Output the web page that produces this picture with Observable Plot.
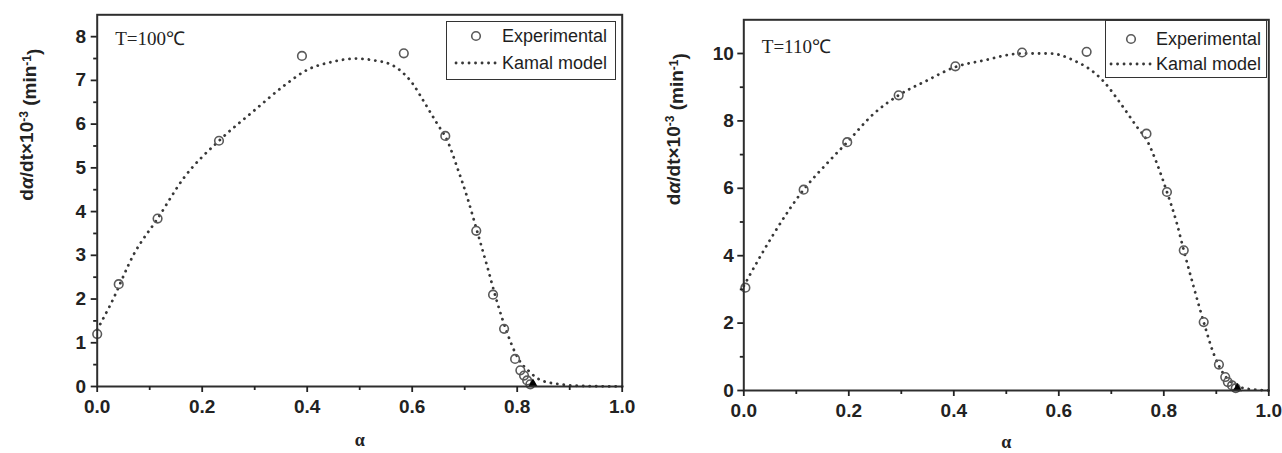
<!DOCTYPE html>
<html><head><meta charset="utf-8">
<script src="https://cdn.jsdelivr.net/npm/d3@7"></script>
<script src="https://cdn.jsdelivr.net/npm/@observablehq/plot@0.6"></script>
<style>
body{margin:0;background:#fff;}
#wrap{position:relative;width:1282px;height:453px;overflow:hidden;font-family:"Liberation Sans",Arial,sans-serif;}
.panel{position:absolute;top:0;}
.legend{position:absolute;border:1.8px solid #333;background:#fff;overflow:hidden;box-sizing:border-box;}
.legend svg{display:block;}
</style>
</head><body>
<div id="wrap"></div>
<script>
// ---------- data ----------
const alphaTicks = [0, 0.2, 0.4, 0.6, 0.8, 1.0];
const alphaMinor = [0.1, 0.3, 0.5, 0.7, 0.9];

// T = 100 °C
const exp100Alpha = [0.0, 0.041, 0.115, 0.232, 0.39, 0.584, 0.663, 0.722, 0.754, 0.775, 0.796, 0.806, 0.813, 0.819, 0.825];
const exp100Rate  = [1.2, 2.34, 3.84, 5.62, 7.56, 7.62, 5.73, 3.56, 2.10, 1.32, 0.63, 0.37, 0.25, 0.14, 0.05];
const model100Alpha = [0.0, 0.026, 0.07, 0.115, 0.165, 0.232, 0.298, 0.355, 0.4, 0.45, 0.493, 0.531, 0.56, 0.58, 0.6, 0.622, 0.647, 0.667, 0.686, 0.705, 0.722, 0.743, 0.762, 0.781, 0.8, 0.825, 0.844, 0.882, 0.93, 1.0];
const model100Rate  = [1.3, 1.89, 3.03, 3.84, 4.77, 5.62, 6.3, 6.87, 7.24, 7.43, 7.5, 7.45, 7.36, 7.2, 6.94, 6.52, 6.02, 5.62, 5.0, 4.32, 3.62, 2.74, 1.92, 1.22, 0.68, 0.32, 0.15, 0.05, 0.01, 0.0];
const mark100Alpha = [0.83];
const mark100Rate  = [0.06];
const y100Ticks = [0, 1, 2, 3, 4, 5, 6, 7, 8];
const y100Minor = [0.5, 1.5, 2.5, 3.5, 4.5, 5.5, 6.5, 7.5];

// T = 110 °C
const exp110Alpha = [0.003, 0.114, 0.197, 0.295, 0.403, 0.53, 0.653, 0.767, 0.806, 0.838, 0.876, 0.905, 0.917, 0.922, 0.93, 0.937];
const exp110Rate  = [3.05, 5.96, 7.37, 8.76, 9.62, 10.03, 10.05, 7.62, 5.89, 4.16, 2.03, 0.77, 0.40, 0.25, 0.15, 0.07];
const model110Alpha = [0.0, 0.013, 0.057, 0.114, 0.158, 0.197, 0.248, 0.295, 0.349, 0.403, 0.453, 0.53, 0.584, 0.628, 0.673, 0.686, 0.718, 0.749, 0.768, 0.787, 0.806, 0.825, 0.838, 0.857, 0.876, 0.895, 0.914, 0.933, 0.952, 0.98, 1.0];
const model110Rate  = [3.1, 3.47, 4.65, 5.96, 6.73, 7.37, 8.22, 8.76, 9.2, 9.6, 9.78, 10.0, 10.0, 9.8, 9.36, 9.16, 8.51, 7.82, 7.42, 6.73, 5.89, 4.95, 4.16, 3.07, 2.03, 1.09, 0.49, 0.2, 0.07, 0.02, 0.0];
const mark110Alpha = [0.94];
const mark110Rate  = [0.06];
const y110Ticks = [0, 2, 4, 6, 8, 10];
const y110Minor = [1, 3, 5, 7, 9];

const yLabel = "dα/dt×10-3 (min-1)";

// ---------- chart ----------
function zip(a, b) { return a.map((v, i) => ({a: v, r: b[i]})); }
const DOTS = {stroke: "#383838", strokeWidth: 2.8, strokeDasharray: "0.1,6.4", strokeLinecap: "round"};

function makePanel(o) {
  const axisFont = {fontSize: 19, fontWeight: "bold", color: "#222", strokeWidth: 1.8};
  const plot = Plot.plot({
    width: o.width, height: 453,
    marginLeft: o.ml, marginRight: o.mr, marginTop: o.mt, marginBottom: o.mb,
    style: {fontFamily: "'Liberation Sans', Arial, sans-serif", background: "transparent", overflow: "visible"},
    x: {domain: [0, 1]},
    y: {domain: [0, o.yMax]},
    marks: [
      Plot.line(zip(o.modA, o.modR), {x: "a", y: "r", ...DOTS, curve: "monotone-x"}),
      Plot.dot(zip(o.expA, o.expR), {x: "a", y: "r", r: 4.3, stroke: "#5a5a5a", strokeWidth: 1.6, fill: "none"}),
      Plot.dot(zip(o.markA, o.markR), {x: "a", y: "r", symbol: "triangle", r: 3.5, fill: "#000"}),
      Plot.frame({stroke: "#2e2e2e", strokeWidth: 2}),
      Plot.axisX({ticks: alphaTicks, tickSize: 6, tickPadding: 7, tickFormat: d3.format(".1f"), label: null, ...axisFont}),
      Plot.axisX({ticks: alphaMinor, tickSize: 4, text: null, label: null, color: "#222", strokeWidth: 1.8}),
      Plot.axisY({ticks: o.yTicks, tickSize: 6, tickPadding: o.yPad, tickFormat: d3.format("d"), label: null, ...axisFont}),
      Plot.axisY({ticks: o.yMinor, tickSize: 3.5, text: null, label: null, color: "#222", strokeWidth: 1.8}),
      Plot.text([o.temp], {frameAnchor: "top-left", textAnchor: "start", lineAnchor: "middle", dx: o.tdx, dy: o.tdy,
        fontFamily: "'Liberation Serif', 'Times New Roman', serif", fontSize: 19, fill: "#222"}),
      Plot.text(["α"], {frameAnchor: "bottom", lineAnchor: "middle", dy: o.xldy,
        fontFamily: "'Liberation Serif', serif", fontWeight: "bold", fontSize: 18, fill: "#222"}),
      Plot.text([yLabel], {frameAnchor: "left", rotate: -90, lineAnchor: "middle", dx: o.yldx,
        fontSize: 19, fontWeight: "bold", fill: "#222"})
    ]
  });
  d3.select(plot).selectAll("text").filter(function() { return this.textContent === yLabel; }).each(function() {
    const t = d3.select(this);
    t.text(null);
    t.append("tspan").text("d");
    t.append("tspan").attr("font-style", "italic").text("α");
    t.append("tspan").text("/dt×10");
    t.append("tspan").attr("dy", "-0.45em").attr("font-size", 12).text("-3");
    t.append("tspan").attr("dy", "0.45em").text(" (min");
    t.append("tspan").attr("dy", "-0.45em").attr("font-size", 12).text("-1");
    t.append("tspan").attr("dy", "0.45em").text(")");
  });
  const div = document.createElement("div");
  div.className = "panel";
  div.style.left = o.left + "px";
  div.appendChild(plot);
  return div;
}

function makeLegend(o) {
  const div = document.createElement("div");
  div.className = "legend";
  Object.assign(div.style, {left: o.x + "px", top: o.y + "px", width: o.w + "px", height: o.h + "px"});
  const svg = d3.create("svg").attr("width", o.w + 20).attr("height", o.h);
  svg.append("circle").attr("cx", o.cx).attr("cy", o.r1).attr("r", 4.3).attr("fill", "none")
    .attr("stroke", "#5a5a5a").attr("stroke-width", 1.6);
  svg.append("line").attr("x1", o.lx1).attr("x2", o.lx2).attr("y1", o.r2).attr("y2", o.r2)
    .attr("stroke", DOTS.stroke).attr("stroke-width", DOTS.strokeWidth)
    .attr("stroke-dasharray", DOTS.strokeDasharray).attr("stroke-linecap", "round");
  const tt = (y, s) => svg.append("text").attr("x", o.tx).attr("y", y).attr("dy", "0.35em")
    .attr("font-family", "'Liberation Sans', Arial, sans-serif").attr("font-size", 18).attr("fill", "#1e1e1e").text(s);
  tt(o.r1, "Experimental");
  tt(o.r2, "Kamal model");
  div.appendChild(svg.node());
  return div;
}

const wrap = document.getElementById("wrap");
wrap.appendChild(makePanel({
  left: 0, width: 640, ml: 96.7, mr: 18.3, mt: 14.3, mb: 67, yMax: 8.5,
  expA: exp100Alpha, expR: exp100Rate, modA: model100Alpha, modR: model100Rate,
  markA: mark100Alpha, markR: mark100Rate, yTicks: y100Ticks, yMinor: y100Minor, yPad: 5,
  temp: "T=100℃", tdx: 18, tdy: 24, xldy: 54, yldx: -70
}));
wrap.appendChild(makePanel({
  left: 640, width: 642, ml: 103.3, mr: 13.7, mt: 19.3, mb: 63, yMax: 11,
  expA: exp110Alpha, expR: exp110Rate, modA: model110Alpha, modR: model110Rate,
  markA: mark110Alpha, markR: mark110Rate, yTicks: y110Ticks, yMinor: y110Minor, yPad: 4,
  temp: "T=110℃", tdx: 18, tdy: 27, xldy: 52, yldx: -70
}));
wrap.appendChild(makeLegend({x: 446, y: 21, w: 170, h: 59, cx: 29, r1: 14, r2: 41, lx1: 9, lx2: 50, tx: 55}));
wrap.appendChild(makeLegend({x: 1105, y: 20, w: 162, h: 58, cx: 25, r1: 18, r2: 43, lx1: 5, lx2: 46, tx: 50}));
</script>
</body></html>
